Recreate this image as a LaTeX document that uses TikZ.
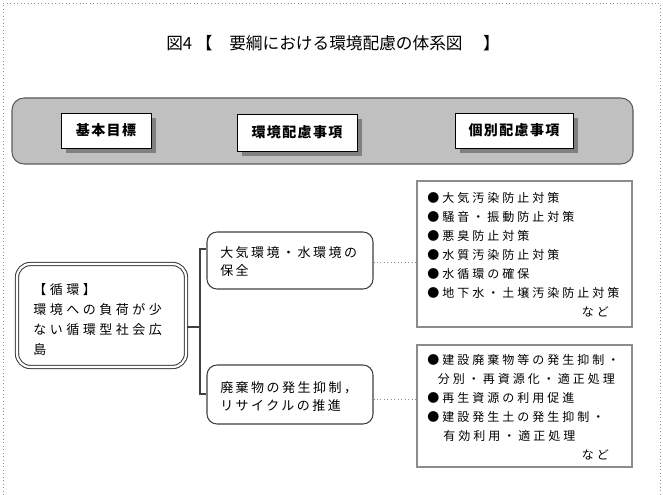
\documentclass[tikz,border=0pt]{standalone}
\usepackage{fontspec}
\setmainfont{Noto Sans CJK JP}
\newfontfamily\jpMain[LetterSpace=27]{Noto Sans CJK JP}
\newfontfamily\jpBox[LetterSpace=19]{Noto Sans CJK JP}
\newfontfamily\jpList[LetterSpace=25]{Noto Sans CJK JP}
\newfontfamily\jpHead[LetterSpace=10]{Noto Sans CJK JP}
\usetikzlibrary{shadows}
\definecolor{bandfill}{HTML}{C0C0C0}
\definecolor{banddraw}{HTML}{5A5A5A}
\definecolor{shadowc}{HTML}{808080}
\definecolor{listdraw}{HTML}{8C8C8C}
\definecolor{framec}{HTML}{909090}
\definecolor{boxdraw}{HTML}{404040}
\tikzset{
  sz/.style args={#1x#2}{minimum width=#1*0.75pt, minimum height=#2*0.75pt, inner sep=0pt},
  headbox/.style={draw=black, line width=0.6pt, fill=white, sz=#1,
    font=\jpHead\bfseries\fontsize{10.5pt}{12pt}\selectfont,
    drop shadow={shadow xshift=3.5pt, shadow yshift=-3.5pt, fill=shadowc, opacity=1}},
  rbox/.style={draw=boxdraw, line width=0.8pt, rounded corners=7.5pt, fill=white, sz=#1},
  mainbox/.style={draw=boxdraw, double=white, double distance=1.6pt, line width=0.8pt, rounded corners=10pt, sz=#1},
  listbox/.style={draw=listdraw, line width=0.8pt, sz=#1},
  txt/.style={anchor=north west, inner sep=0pt, align=left},
  conn/.style={draw=boxdraw, line width=0.8pt},
  dots/.style={draw=listdraw, line width=0.6pt, dotted},
}
\begin{document}
\begin{tikzpicture}[x=0.75pt,y=-0.75pt]
\useasboundingbox (0,0) rectangle (663,495);
% frame
\draw[framec, line width=0.6pt, dotted] (3,495) -- (3,3) -- (660,3) -- (660,495);
% title
\node[inner sep=0pt, font=\fontsize{12.5pt}{14pt}\selectfont] (title) at (333,43) {図4 【　要綱における環境配慮の体系図　 】};
% band
\node[draw=banddraw, fill=bandfill, line width=0.8pt, rounded corners=9pt, sz=621x66] (band) at (322.5,131) {};
\node[headbox=90x35] (h1) at (106,130.5) {基本目標};
\node[headbox=120x37] (h2) at (297,132.5) {環境配慮事項};
\node[headbox=118x35] (h3) at (514,130.5) {個別配慮事項};
% main box
\node[mainbox=169x103] (main) at (101.5,315.5) {};
\node[txt, font=\jpMain\fontsize{9.75pt}{15pt}\selectfont] (mainT) at (33,283) {【循環】\\環境への負荷が少\\ない循環型社会広\\島};
% middle boxes
\node[rbox=166x57] (b1) at (290,260.5) {};
\node[txt, font=\jpBox\fontsize{9.75pt}{13.5pt}\selectfont] (b1T) at (220,246.5) {大気環境・水環境の\\保全};
\node[rbox=166x59] (b2) at (290,394.5) {};
\node[txt, font=\jpBox\fontsize{9.75pt}{13pt}\selectfont] (b2T) at (220,381.5) {廃棄物の発生抑制，\\リサイクルの推進};
% list boxes
\node[listbox=215x146] (l1) at (524.5,254) {};
\node[txt, font=\jpList\fontsize{9pt}{14.25pt}\selectfont] (l1T) at (427,192) {●大気汚染防止対策\\●騒音・振動防止対策\\●悪臭防止対策\\●水質汚染防止対策\\●水循環の確保\\●地下水・土壌汚染防止対策\\\hspace*{116pt}など};
\node[listbox=215x122] (l2) at (524.5,406) {};
\node[txt, font=\jpList\fontsize{9pt}{14.25pt}\selectfont] (l2T) at (427,354) {●建設廃棄物等の発生抑制・\\\hspace*{8pt}分別・再資源化・適正処理\\●再生資源の利用促進\\●建設発生土の発生抑制・\\\hspace*{12pt}有効利用・適正処理\\\hspace*{116pt}など};
% connectors
\coordinate (j) at (200,327);
\coordinate (j1) at (200,249);
\coordinate (j2) at (200,394);
\draw[conn] (main.east |- j) -- (j);
\draw[conn] (b1.west |- j1) -- (j1) -- (j2) -- (b2.west |- j2);
\draw[dots] ([yshift=-1.5pt]b1.east) -- ([yshift=-1.5pt]b1.east -| l1.west);
\draw[dots] ([yshift=-4pt]b2.east) -- ([yshift=-4pt]b2.east -| l2.west);
\end{tikzpicture}
\end{document}
